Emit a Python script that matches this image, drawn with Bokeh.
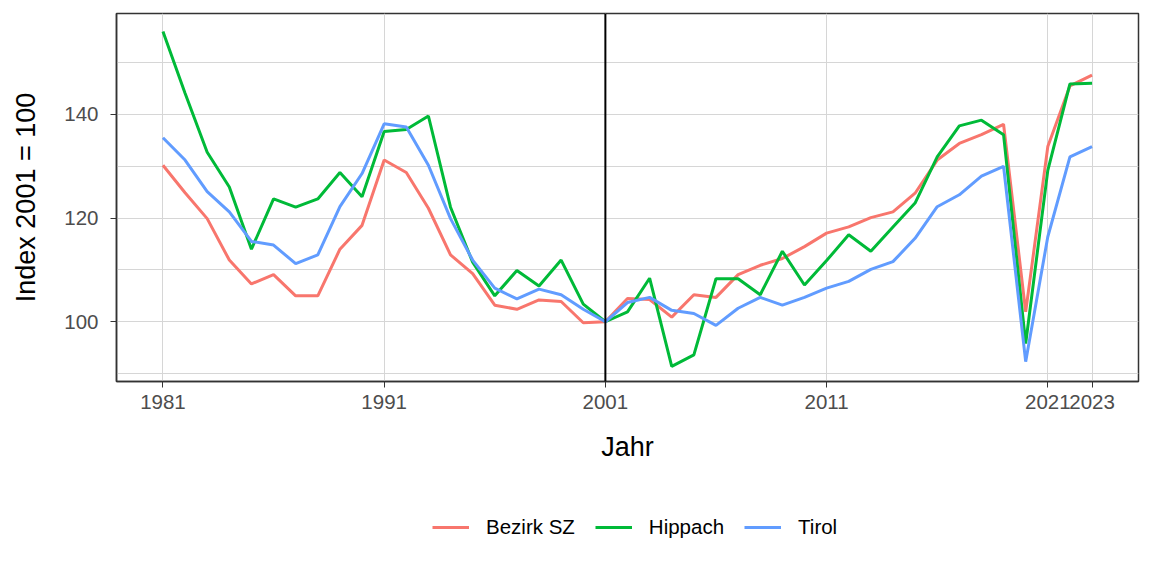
from bokeh.plotting import figure
from bokeh.layouts import column
from bokeh.models import Range1d, FixedTicker, Span, Legend, LegendItem
from bokeh.embed import file_html
from bokeh.resources import INLINE

years = list(range(1981, 2024))

bezirk_sz = [130.2, 124.9, 119.9, 111.9, 107.3, 109.1, 105.0, 105.0, 114.0, 118.6,
             131.2, 128.8, 121.9, 112.9, 109.3, 103.2, 102.4, 104.2, 103.9, 99.8,
             100.0, 104.5, 104.3, 100.9, 105.2, 104.7, 109.1, 110.9, 112.2, 114.5,
             117.1, 118.3, 120.1, 121.2, 124.8, 131.2, 134.4, 136.1, 138.1, 101.9,
             133.8, 145.5, 147.6]

hippach = [156.0, 144.1, 132.7, 126.0, 114.0, 123.7, 122.1, 123.7, 128.8, 124.1,
           136.7, 137.1, 139.7, 122.1, 111.5, 105.0, 109.9, 106.9, 111.9, 103.4,
           100.0, 101.9, 108.4, 91.4, 93.6, 108.3, 108.3, 105.2, 113.6, 107.1,
           111.8, 116.8, 113.6, 118.3, 122.9, 131.8, 137.8, 138.9, 136.1, 95.8,
           129.2, 145.9, 146.0]

tirol = [135.5, 131.2, 125.1, 121.2, 115.5, 114.8, 111.2, 112.9, 122.2, 128.6,
         138.2, 137.6, 130.2, 119.9, 111.9, 106.5, 104.4, 106.3, 105.2, 102.4,
         100.0, 103.7, 104.7, 102.2, 101.6, 99.3, 102.6, 104.7, 103.2, 104.7,
         106.5, 107.8, 110.1, 111.6, 116.1, 122.2, 124.5, 128.1, 130.0, 92.3,
         116.4, 131.8, 133.8]

series_names = ["Bezirk SZ", "Hippach", "Tirol"]
series_colors = ["#F8766D", "#00BA38", "#619CFF"]

x_ticks = [1981, 1991, 2001, 2011, 2021, 2023]
y_ticks = [100, 120, 140]
y_minor = [90, 110, 130, 150]
marker_year = 2001

FONT = "Liberation Sans"

p = figure(width=1152, height=476, output_backend="svg", toolbar_location=None,
           x_range=Range1d(1978.9, 2025.1), y_range=Range1d(88.47, 159.48),
           min_border_left=116, min_border_right=14, min_border_top=13,
           min_border_bottom=95)

p.background_fill_color = "white"
p.border_fill_color = "white"
p.outline_line_color = "#333333"
p.outline_line_width = 1.5

# grid
p.xgrid.ticker = FixedTicker(ticks=x_ticks)
p.ygrid.ticker = FixedTicker(ticks=y_ticks, minor_ticks=y_minor)
for g in (p.xgrid, p.ygrid):
    g.grid_line_color = "#D6D6D6"
    g.grid_line_width = 1
p.ygrid.minor_grid_line_color = "#D6D6D6"
p.ygrid.minor_grid_line_width = 1

# axes
p.xaxis.ticker = FixedTicker(ticks=x_ticks)
p.yaxis.ticker = FixedTicker(ticks=y_ticks)
p.xaxis.axis_label = "Jahr"
p.yaxis.axis_label = "Index 2001 = 100"
for ax in (p.xaxis, p.yaxis):
    ax.axis_line_color = "#333333"
    ax.axis_line_width = 1.5
    ax.major_tick_line_color = "#333333"
    ax.major_tick_line_width = 1
    ax.major_tick_out = 6
    ax.major_tick_in = 0
    ax.minor_tick_line_color = None
    ax.major_label_text_font = FONT
    ax.major_label_text_font_size = "20.5px"
    ax.major_label_text_color = "#4D4D4D"
    ax.axis_label_text_font = FONT
    ax.axis_label_text_font_size = "27px"
    ax.axis_label_text_font_style = "normal"
    ax.axis_label_text_color = "black"
p.xaxis.major_label_standoff = 7
p.yaxis.major_label_standoff = 12
p.xaxis.axis_label_standoff = 20
p.yaxis.axis_label_standoff = 20

for vals, col in zip([bezirk_sz, hippach, tirol], series_colors):
    p.line(years, vals, line_color=col, line_width=3)

p.add_layout(Span(location=marker_year, dimension="height", line_color="black", line_width=2))

# legend strip below the chart (keys drawn by the legend from off-range proxy lines)
lg = figure(width=1152, height=100, output_backend="svg", toolbar_location=None,
            x_range=Range1d(0, 1), y_range=Range1d(0, 1),
            x_axis_type=None, y_axis_type=None,
            min_border_left=0, min_border_right=0, min_border_top=0, min_border_bottom=0)
lg.outline_line_color = None
lg.background_fill_color = "white"
lg.border_fill_color = "white"
lg.grid.visible = False

items = []
for name, col in zip(series_names, series_colors):
    r = lg.line([-10, -9], [-10, -9], line_color=col, line_width=3)
    items.append(LegendItem(label=name, renderers=[r]))

legend = Legend(items=items, orientation="horizontal", location=(316, 37),
                glyph_width=37, glyph_height=20, label_standoff=17, spacing=20,
                padding=10, margin=0, border_line_color=None,
                background_fill_alpha=0,
                label_text_font=FONT, label_text_font_size="20.5px",
                label_text_color="black")
lg.add_layout(legend, "center")

layout = column(p, lg, spacing=0)

open("out.html", "w").write(file_html(layout, INLINE))
